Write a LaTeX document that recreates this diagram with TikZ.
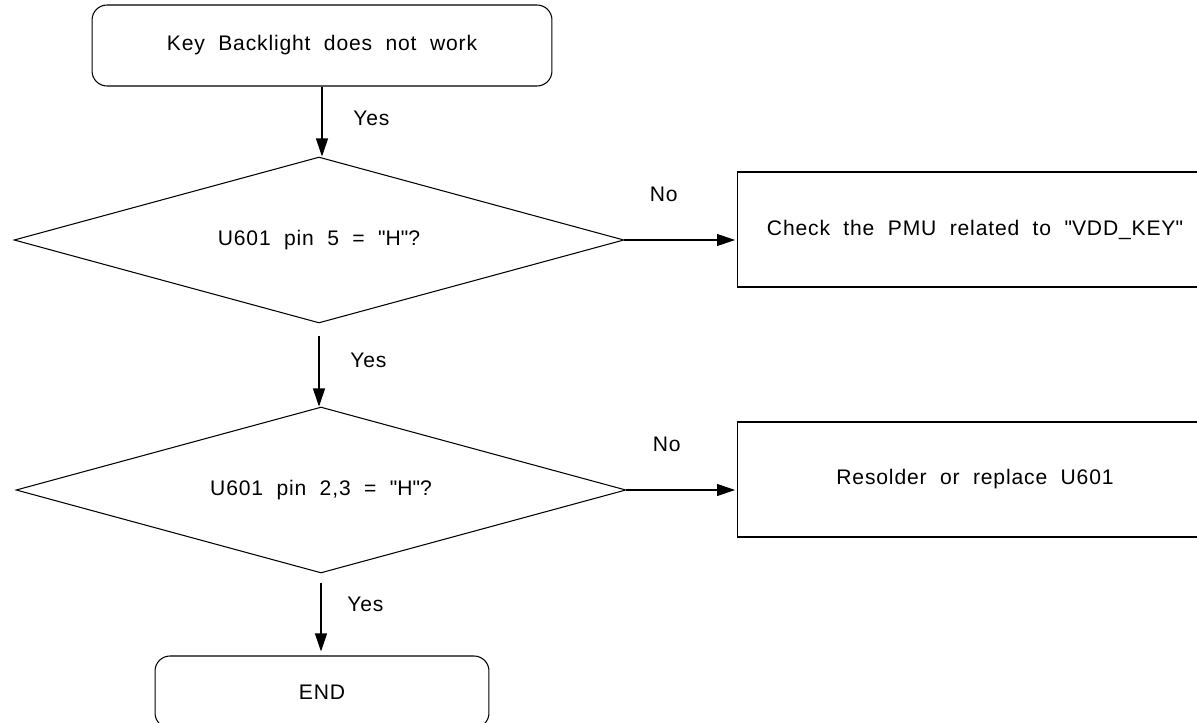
\documentclass[tikz,border=0pt]{standalone}
\usepackage{fontspec}
\setmainfont{Liberation Sans}[LetterSpace=4,WordSpace=2]
\usetikzlibrary{arrows.meta,shapes.geometric}
\tikzset{
	termbox/.style={draw, rounded corners=0.3cm, minimum width=9.2cm, minimum height=1.62cm, inner sep=0pt},
	testbox/.style={draw, diamond, aspect=3.67, minimum width=12.2cm, minimum height=3.32cm, inner sep=0pt},
	fixbox/.style={draw, rectangle, minimum width=9.5cm, minimum height=2.3cm, inner sep=0pt},
	flow/.style={-{Triangle[length=0.36cm,width=0.24cm]}, line width=0.6pt},
	answer/.style={font=\fontsize{12}{14}\selectfont}
}

\begin{document}
\begin{tikzpicture}[x=0.02cm, y=-0.02cm, line width=0.6pt, font=\fontsize{12}{14}\selectfont]
\clip (0,0) rectangle (1197,723);
% Boxes
\node[termbox] (start) at (322,45.5) {Key Backlight does not work};
\node[testbox] (pin5) at (319,240) {U601 pin 5 = \textquotedbl H\textquotedbl ?};
\node[testbox] (pin23) at (321,490) {U601 pin 2,3 = \textquotedbl H\textquotedbl ?};
\node[fixbox] (pmu) at (975,229.5) {Check the PMU related to \textquotedbl VDD\_KEY\textquotedbl};
\node[fixbox] (resolder) at (975,479.5) {Resolder or replace U601};
\node[termbox, minimum width=6.68cm, minimum height=1.44cm] (finish) at (322,692) {END};
% Yes branches
\draw[flow] (start.south) -- (start.south |- pin5.north) node[answer, midway, right=0.5cm, yshift=0.06cm] {Yes};
\draw[flow, shorten <=0.24cm] (pin5.south) -- (pin5.south |- pin23.north) node[answer, midway, right=0.5cm, yshift=0.1cm] {Yes};
\draw[flow, shorten <=0.18cm, shorten >=0.08cm] (pin23.south) -- (pin23.south |- finish.north) node[answer, midway, right=0.4cm, yshift=0.2cm] {Yes};
% No branches
\draw[flow, shorten >=0.04cm] (pin5.east) -- (pin5.east -| pmu.west) node[answer, midway, above=0.64cm, xshift=-0.34cm] {No};
\draw[flow, shorten >=0.04cm] (pin23.east) -- (pin23.east -| resolder.west) node[answer, midway, above=0.64cm, xshift=-0.3cm] {No};
\end{tikzpicture}
\end{document}
